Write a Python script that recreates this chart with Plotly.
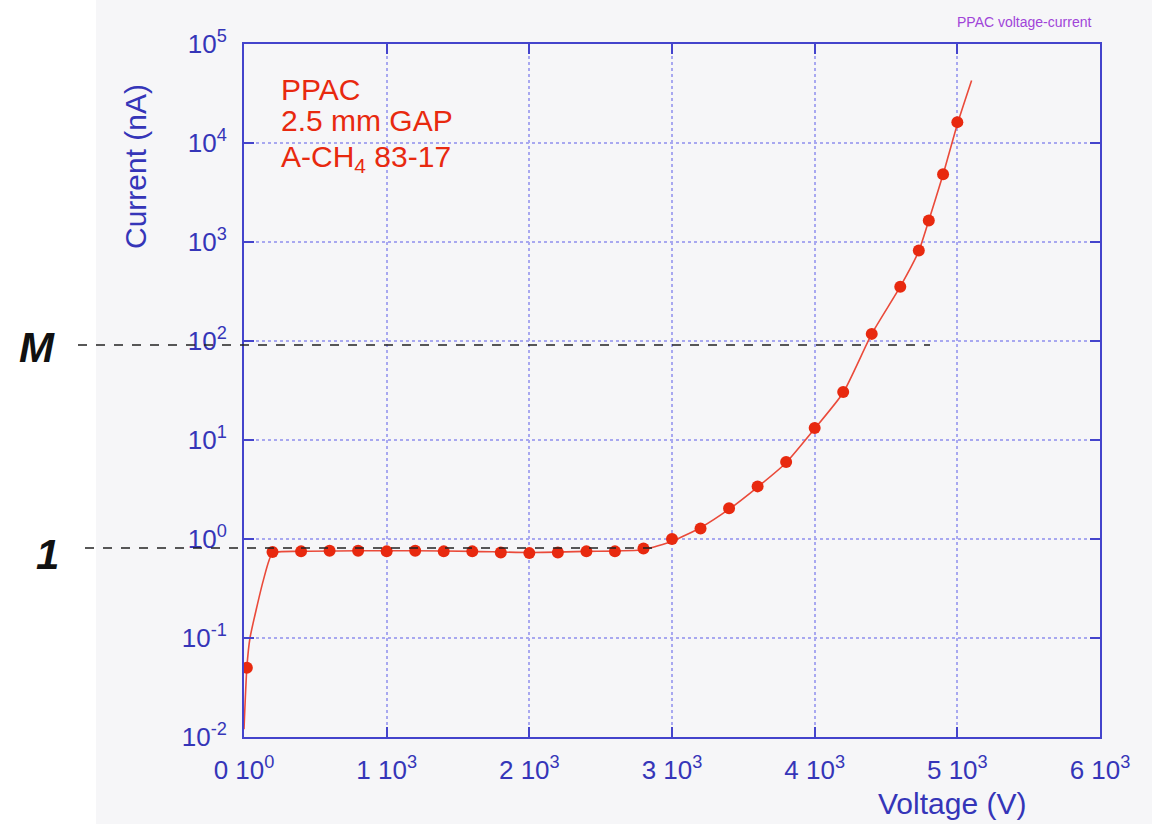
import plotly.graph_objects as go

# Measured PPAC current vs applied voltage
voltage = [20, 200, 400, 600, 800, 1000, 1200, 1400, 1600, 1800, 2000, 2200,
           2400, 2600, 2800, 3000, 3200, 3400, 3600, 3800, 4000, 4200, 4400,
           4600, 4730, 4800, 4900, 5000]
current = [0.05, 0.74, 0.75, 0.76, 0.76, 0.75, 0.76, 0.75, 0.75, 0.73, 0.72,
           0.73, 0.75, 0.75, 0.80, 1.0, 1.28, 2.04, 3.4, 6.0, 13.2, 30.5, 118,
           354, 820, 1650, 4830, 16250]

# Smooth guide curve drawn through the measurements
fit_voltage = [0, 20, 42, 135, 200, 400, 800, 1200, 1600, 2000, 2400, 2800,
               3000, 3200, 3400, 3600, 3800, 4000, 4200, 4400, 4600, 4730,
               4800, 4900, 5000, 5100]
fit_current = [0.012, 0.05, 0.1, 0.38, 0.72, 0.75, 0.76, 0.76, 0.75, 0.73,
               0.75, 0.78, 0.95, 1.3, 2.0, 3.35, 5.9, 13.0, 30.0, 118, 354,
               810, 1650, 4800, 15500, 42700]

x_ticks = [0, 1000, 2000, 3000, 4000, 5000, 6000]
x_ticktext = ["0 10<sup>0</sup>", "1 10<sup>3</sup>", "2 10<sup>3</sup>",
              "3 10<sup>3</sup>", "4 10<sup>3</sup>", "5 10<sup>3</sup>",
              "6 10<sup>3</sup>"]
y_ticks = [1e-2, 1e-1, 1e0, 1e1, 1e2, 1e3, 1e4, 1e5]
y_ticktext = ["10<sup>-2</sup>", "10<sup>-1</sup>", "10<sup>0</sup>",
              "10<sup>1</sup>", "10<sup>2</sup>", "10<sup>3</sup>",
              "10<sup>4</sup>", "10<sup>5</sup>"]

W, H = 1152, 824
L, R, T, B = 244, 1100, 44, 737

def px(x):
    return (x - L) / (R - L)

def py(y):
    return (B - y) / (B - T)

FONT = "Liberation Sans, Arial, sans-serif"
AXIS_BLUE = "#4444cc"
TEXT_BLUE = "#3535b8"
GRID = "#a8a8f0"
RED = "#e8290f"
BG = "#f6f6f8"

fig = go.Figure()
fig.add_trace(go.Scatter(
    x=fit_voltage, y=fit_current, mode="lines",
    line=dict(color="#ea4a3a", width=1.6, shape="spline", smoothing=0.5),
    hoverinfo="skip", showlegend=False))
fig.add_trace(go.Scatter(
    x=voltage, y=current, mode="markers",
    marker=dict(color=RED, size=12, line=dict(width=0)),
    showlegend=False))

axis_common = dict(
    showline=True, linecolor=AXIS_BLUE, linewidth=2, mirror="ticks",
    ticks="inside", ticklen=10, tickwidth=2, tickcolor=AXIS_BLUE,
    showgrid=True, gridcolor=GRID, gridwidth=1.5, griddash="dot",
    zeroline=False,
    tickfont=dict(family=FONT, size=26, color=TEXT_BLUE),
)

fig.update_xaxes(range=[0, 6000], tickmode="array", tickvals=x_ticks,
                 ticktext=x_ticktext, ticklabelstandoff=9, **axis_common)
fig.update_yaxes(type="log", range=[-2, 5], tickmode="array",
                 tickvals=y_ticks, ticktext=y_ticktext,
                 ticklabelstandoff=10, **axis_common)

shapes = [
    # light panel behind the chart
    dict(type="rect", xref="paper", yref="paper",
         x0=px(96), x1=px(W), y0=py(H), y1=py(0),
         fillcolor=BG, line=dict(width=0), layer="below"),
    # reference levels
    dict(type="line", xref="paper", yref="paper",
         x0=px(78), x1=px(930), y0=py(345), y1=py(345),
         line=dict(color="#222222", width=1.5, dash="dash")),
    dict(type="line", xref="paper", yref="paper",
         x0=px(85), x1=px(660), y0=py(548), y1=py(548),
         line=dict(color="#222222", width=1.5, dash="dash")),
]

annotations = [
    dict(text="PPAC voltage-current", x=px(1024), y=py(22),
         font=dict(family=FONT, size=14, color="#a044d8")),
    dict(text="Current (nA)", x=px(135), y=py(167), textangle=-90,
         font=dict(family=FONT, size=30, color=TEXT_BLUE)),
    dict(text="Voltage (V)", x=px(952), y=py(803),
         font=dict(family=FONT, size=30, color=TEXT_BLUE)),
    dict(text="PPAC", x=px(279), y=py(89), xanchor="left",
         font=dict(family=FONT, size=30, color=RED)),
    dict(text="2.5 mm GAP", x=px(279), y=py(120), xanchor="left",
         font=dict(family=FONT, size=30, color=RED)),
    dict(text="A-CH<sub>4</sub> 83-17", x=px(279), y=py(158), xanchor="left",
         font=dict(family=FONT, size=30, color=RED)),
    dict(text="<b><i>M</i></b>", x=px(37), y=py(347),
         font=dict(family=FONT, size=42, color="#111111")),
    dict(text="<b><i>1</i></b>", x=px(47), y=py(554),
         font=dict(family=FONT, size=42, color="#111111")),
]
for a in annotations:
    a.update(xref="paper", yref="paper", showarrow=False,
             xanchor=a.get("xanchor", "center"), yanchor="middle")

fig.update_layout(
    width=W, height=H,
    margin=dict(l=L, r=W - R, t=T, b=H - B, pad=0),
    paper_bgcolor="white", plot_bgcolor=BG,
    shapes=shapes, annotations=annotations,
    showlegend=False,
)

fig.write_html("out.html")
